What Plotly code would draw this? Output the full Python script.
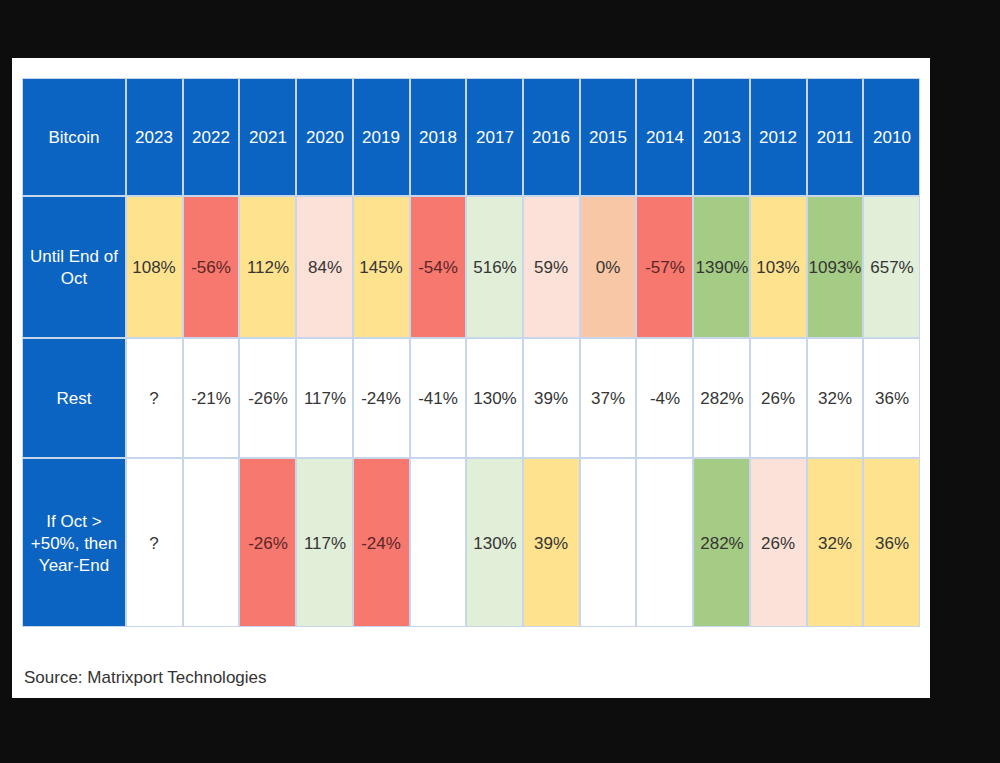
import numpy as np
import plotly.graph_objects as go

# ---------------- data ----------------
years = ["2023", "2022", "2021", "2020", "2019", "2018", "2017", "2016",
         "2015", "2014", "2013", "2012", "2011", "2010"]
row_labels = ["Until End of<br>Oct", "Rest", "If Oct ><br>+50%, then<br>Year-End"]
corner_label = "Bitcoin"

until_end_oct = ["108%", "-56%", "112%", "84%", "145%", "-54%", "516%", "59%",
                 "0%", "-57%", "1390%", "103%", "1093%", "657%"]
rest = ["?", "-21%", "-26%", "117%", "-24%", "-41%", "130%", "39%",
        "37%", "-4%", "282%", "26%", "32%", "36%"]
if_oct_gt50 = ["?", "", "-26%", "117%", "-24%", "", "130%", "39%",
               "", "", "282%", "26%", "32%", "36%"]

# colour class per cell (conditional formatting of the source table)
until_cls = ["yellow", "red", "yellow", "peach", "yellow", "red", "lgreen", "peach",
             "orange", "red", "green", "yellow", "green", "lgreen"]
rest_cls = ["white"] * 14
ifoct_cls = ["white", "white", "red", "lgreen", "red", "white", "lgreen", "yellow",
             "white", "white", "green", "peach", "yellow", "yellow"]
source = "Source: Matrixport Technologies"

# ---------------- styles ----------------
palette = {
    "white": "#ffffff",
    "yellow": "#fee28e",
    "red": "#f7786e",
    "peach": "#fbe1d7",
    "orange": "#f8c7a6",
    "lgreen": "#e1eed8",
    "green": "#a5cc84",
}
cls_names = list(palette.keys())
BLUE = "#0b63c2"
GRID = "#c8d6ec"
FONT = "Liberation Sans, Arial, sans-serif"
TXT = "#353535"
TXT_RED = "#5a2626"

col_widths = [104] + [56.7] * len(years)
row_heights = [118, 142, 120, 169]
x_edges = np.concatenate([[0], np.cumsum(col_widths)])
y_edges = np.concatenate([[0], np.cumsum(row_heights)])

n_r, n_c = len(row_heights), len(col_widths)

# header/label trace
z_head = np.full((n_r, n_c), np.nan)
t_head = [["" for _ in range(n_c)] for _ in range(n_r)]
z_head[0, :] = 0
z_head[:, 0] = 0
t_head[0][0] = corner_label
for j, y in enumerate(years):
    t_head[0][j + 1] = y
for i, lab in enumerate(row_labels):
    t_head[i + 1][0] = lab

# body trace (colours) + text split by text colour
z_body = np.full((n_r, n_c), np.nan)
t_body = [["" for _ in range(n_c)] for _ in range(n_r)]
t_body_red = [["" for _ in range(n_c)] for _ in range(n_r)]
for i, (vals, cls) in enumerate([(until_end_oct, until_cls), (rest, rest_cls),
                                 (if_oct_gt50, ifoct_cls)]):
    for j in range(len(years)):
        z_body[i + 1, j + 1] = cls_names.index(cls[j])
        if cls[j] == "red":
            t_body_red[i + 1][j + 1] = vals[j]
        else:
            t_body[i + 1][j + 1] = vals[j]

nC = len(cls_names)
colorscale = []
for k, name in enumerate(cls_names):
    colorscale.append([k / nC, palette[name]])
    colorscale.append([(k + 1) / nC, palette[name]])

fig = go.Figure()
fig.add_trace(go.Heatmap(
    x=x_edges, y=y_edges, z=z_body, text=t_body, texttemplate="%{text}",
    colorscale=colorscale, zmin=-0.5, zmax=nC - 0.5, showscale=False,
    xgap=2, ygap=2, hoverinfo="skip",
    textfont=dict(family=FONT, size=17, color=TXT),
))
fig.add_trace(go.Heatmap(
    x=x_edges, y=y_edges, z=z_body, text=t_body_red, texttemplate="%{text}",
    colorscale=colorscale, zmin=-0.5, zmax=nC - 0.5, showscale=False,
    opacity=0, xgap=2, ygap=2, hoverinfo="skip",
    textfont=dict(family=FONT, size=17, color=TXT_RED),
))
fig.add_trace(go.Heatmap(
    x=x_edges, y=y_edges, z=z_head, text=t_head, texttemplate="%{text}",
    colorscale=[[0, BLUE], [1, BLUE]], zmin=0, zmax=1, showscale=False,
    xgap=2, ygap=2, hoverinfo="skip",
    textfont=dict(family=FONT, size=17, color="#ffffff"),
))

L, R, T, B = 22, 80, 78, 136
W, H = 1000, 763
pw, ph = W - L - R, H - T - B


def px_x(p):
    return (p - L) / pw


def px_y(p):
    return (H - B - p) / ph


fig.update_layout(
    width=W, height=H,
    margin=dict(l=L, r=R, t=T, b=B),
    paper_bgcolor="#0d0d0d",
    plot_bgcolor=GRID,
    xaxis=dict(range=[x_edges[0], x_edges[-1]], visible=False, fixedrange=True),
    yaxis=dict(range=[y_edges[-1], y_edges[0]], visible=False, fixedrange=True),
    shapes=[
        dict(type="rect", xref="paper", yref="paper",
             x0=px_x(12), x1=px_x(930), y0=px_y(698), y1=px_y(58),
             fillcolor="#ffffff", line=dict(width=0), layer="below"),
        # grid-line colour behind the table cells (shows through the gaps)
        dict(type="rect", xref="x", yref="y",
             x0=x_edges[0], x1=x_edges[-1], y0=y_edges[0], y1=y_edges[-1],
             fillcolor=GRID, line=dict(width=0), layer="below"),
    ],
    annotations=[dict(text=source, xref="paper", yref="paper",
                      x=px_x(22), y=px_y(677), xanchor="left", yanchor="middle",
                      showarrow=False,
                      font=dict(family=FONT, size=17, color="#333333"))],
    showlegend=False,
)

fig.write_html(
    "out.html",
    config={"displayModeBar": False},
    post_script="document.body.style.margin='0';document.body.style.background='#0d0d0d';",
)
